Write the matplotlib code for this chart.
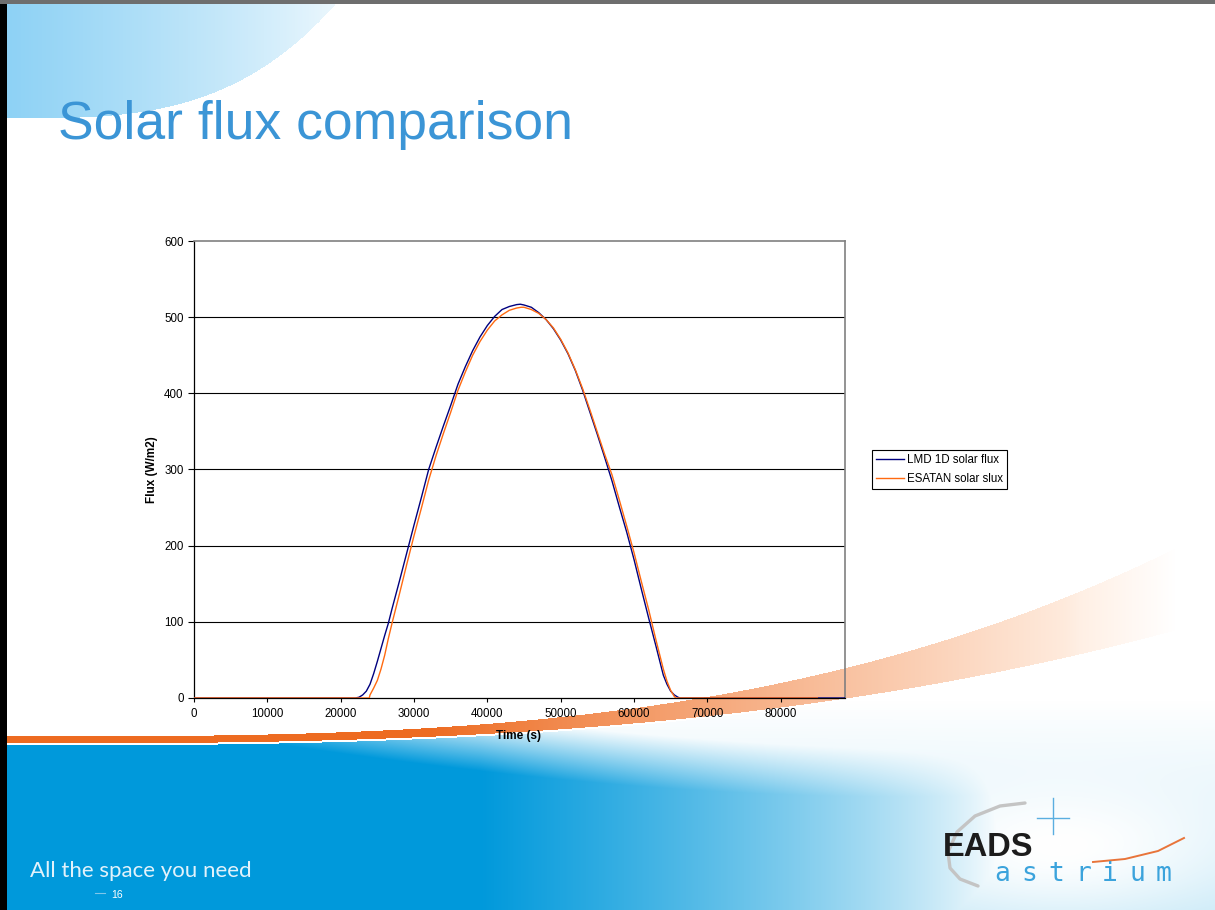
import numpy as np
import matplotlib
matplotlib.use("Agg")
import matplotlib.pyplot as plt
from matplotlib.lines import Line2D

plt.rcParams['font.family'] = ['Liberation Sans', 'DejaVu Sans']

# ---------------- data ----------------
title = "Solar flux comparison"
x_label = "Time (s)"
y_label = "Flux (W/m2)"
series_names = ["LMD 1D solar flux", "ESATAN solar slux"]
x_ticks = [0, 10000, 20000, 30000, 40000, 50000, 60000, 70000, 80000]
y_ticks = [0, 100, 200, 300, 400, 500, 600]

lmd_time = [0, 22000, 22500, 23000, 23500, 24000, 24500, 25000, 25500, 26000,
            26500, 27000, 28000, 29000, 30000, 31000, 32000, 33000, 34000, 35000,
            36000, 37000, 38000, 39000, 40000, 41000, 42000, 43000, 44000, 44500,
            45000, 46000, 47000, 48000, 49000, 50000, 51000, 52000, 53000, 54000,
            55000, 56000, 57000, 58000, 59000, 60000, 61000, 62000, 63000, 64000,
            64500, 65000, 65500, 66000, 66300, 88775]
lmd_flux = [0, 0, 1, 4, 9, 18, 32, 48, 65, 82,
            98, 117, 153, 190, 227, 263, 300, 329, 357, 384,
            412, 435, 456, 474, 489, 501, 510, 514, 516.5, 517,
            516, 513, 506, 497, 485, 470, 452, 430, 404, 375,
            346, 316, 285, 251, 218, 182, 143, 105, 68, 30,
            18, 9, 4, 1, 0, 0]

esatan_time = [0, 23900, 24000, 24500, 25000, 25500, 26000, 26500, 27000, 28000,
               29000, 30000, 31000, 32000, 33000, 34000, 35000, 36000, 37000, 38000,
               39000, 40000, 41000, 42000, 43000, 44000, 44600, 45000, 46000, 47000,
               48000, 49000, 50000, 51000, 52000, 53000, 54000, 55000, 56000, 57000,
               58000, 59000, 60000, 61000, 62000, 63000, 64000, 64500, 65000, 65500,
               65700, 85000]
esatan_flux = [0, 0, 4, 13, 23, 38, 56, 78, 98, 136,
               175, 213, 249, 286, 318, 347, 375, 404, 428, 450,
               468, 483, 495, 503, 509, 512, 513, 513, 510, 505,
               497, 486, 471, 453, 431, 406, 378, 349, 320, 293,
               260, 226, 191, 153, 116, 76, 38, 22, 10, 2,
               0, 0]

x_max = 88775
y_max = 600

# ---------------- slide background ----------------
W, H = 1215, 910
yy, xx = np.mgrid[0:H, 0:W].astype(float)
img = np.ones((H, W, 3))

# top-left light-blue swoosh
S = 118 - 114 * np.clip(xx / 335.0, 0, 1.2) ** 3.3
m_sw = (yy < S) & (xx < 340)
f = np.clip(1 - xx / 370.0, 0, 1) ** 0.75
c_sw = np.array([0.55, 0.82, 0.96])
for k in range(3):
    img[..., k] = np.where(m_sw, 1 - f * (1 - c_sw[k]), img[..., k])

# orange swoosh
U = 736 - 176 * (xx / 1150.0) ** 3.07
L = 743 - 94 * (xx / 1100.0) ** 2.8
m_or = (yy >= U) & (yy <= L)
g = np.clip((xx - 430) / 650.0, 0, 1) ** 0.9
c_or = np.array([0.93, 0.42, 0.13])
c_pale = np.array([1.0, 0.93, 0.88])
fade = np.clip((1175 - xx) / 110.0, 0, 1)
for k in range(3):
    col = c_or[k] * (1 - g) + c_pale[k] * g
    col = 1 - (1 - col) * fade
    img[..., k] = np.where(m_or, col, img[..., k])

# blue bottom area
m_bl = yy > L + 2
h = np.clip((1000 - xx) / 520.0, 0, 1) ** 0.75
v = np.clip((yy - L) / 55.0 + (540 - xx) / 330.0 + 0.15, 0, 1)
t = h * v
fl = 0.22 * np.clip((yy - 700) / 210.0, 0, 1)
glow = np.exp(-(((xx - 1060) / 170.0) ** 2 + ((yy - 845) / 70.0) ** 2))
fl = fl * (1 - glow)
t = np.maximum(t, fl)
c_bl = np.array([0.0, 0.60, 0.86])
for k in range(3):
    img[..., k] = np.where(m_bl, 1 - t * (1 - c_bl[k]), img[..., k])

fig = plt.figure(figsize=(12.15, 9.10), dpi=100)
bg = fig.add_axes([0, 0, 1, 1], zorder=0)
bg.imshow(img, extent=(0, W, H, 0), aspect='auto', interpolation='bilinear')
bg.set_xlim(0, W)
bg.set_ylim(H, 0)
bg.axis('off')

# slide borders
bg.add_patch(plt.Rectangle((0, 0), 7, H, color='black', lw=0))
bg.add_patch(plt.Rectangle((0, 0), W, 4, color='#6e6e6e', lw=0))

# slide title
bg.text(58, 139, title, fontsize=38.5, color='#3b95d6', va='baseline', ha='left')

# footer
bg.text(30, 877, "All the space you need", fontsize=16, color='#e2f2fb',
        family=['Lato', 'DejaVu Sans'], va='baseline', ha='left')
bg.plot([95, 105], [893, 893], color='#7fc6ea', lw=0.8)
bg.text(111, 898, "16", fontsize=7.5, color='white', va='baseline', ha='left')

# logo
arc_x = [1025, 1000, 975, 957, 948, 950, 960, 978]
arc_y = [803, 806, 816, 832, 852, 868, 879, 886]
bg.plot(arc_x, arc_y, color='#c4c4c4', lw=2.4, solid_capstyle='round')
bg.plot([1053, 1053], [798, 834], color='#5aaee0', lw=1.0)
bg.plot([1037, 1069], [818, 818], color='#5aaee0', lw=1.0)
bg.plot([1093, 1125, 1158, 1184], [862, 859, 851, 838], color='#e8743a', lw=1.4)
bg.text(943, 856, "EADS", fontsize=23.5, fontweight='bold', color='#1c1c1c',
        va='baseline', ha='left')
for i, ch in enumerate("astrium"):
    bg.text(1002 + i * 27, 881, ch, fontsize=19, color='#3ba3dc',
            family=['DejaVu Sans Mono', 'DejaVu Sans'], va='baseline', ha='center')

# ---------------- chart ----------------
ax = fig.add_axes([194 / W, 1 - 698 / H, 651 / W, 457 / H], zorder=1)
ax.patch.set_alpha(0)

ax.plot(lmd_time, lmd_flux, color='#00007f', lw=1.0, zorder=3)
ax.plot(esatan_time, esatan_flux, color='#ff6a10', lw=1.0, zorder=4)

ax.set_xlim(0, x_max)
ax.set_ylim(0, y_max)
ax.set_xticks(x_ticks)
ax.set_xticklabels([str(v) for v in x_ticks])
ax.set_yticks(y_ticks)
ax.set_yticklabels([str(v) for v in y_ticks])
for yv in y_ticks[1:-1]:
    ax.axhline(yv, color='black', lw=0.8, zorder=1)

ax.tick_params(axis='y', direction='out', length=4, width=0.8, pad=3.5,
               labelsize=8.3, color='black')
ax.tick_params(axis='x', direction='out', length=3, width=0.8, pad=4,
               labelsize=8.3, color='black')

for side in ['left', 'bottom']:
    ax.spines[side].set_color('black')
    ax.spines[side].set_linewidth(0.9)
for side in ['top', 'right']:
    ax.spines[side].set_color('#808080')
    ax.spines[side].set_linewidth(1.2)

ax.set_xlabel(x_label, fontsize=8.5, fontweight='bold', va='center')
ax.xaxis.set_label_coords(0.499, -0.083)
ax.set_ylabel(y_label, fontsize=8.5, fontweight='bold', va='center')
ax.yaxis.set_label_coords(-0.0645, 0.5)

handles = [Line2D([], [], color='#00007f', lw=1.0),
           Line2D([], [], color='#ff6a10', lw=1.0)]
leg = ax.legend(handles, series_names, loc='center left',
                bbox_to_anchor=(872 / W, 1 - 469.5 / H),
                bbox_transform=fig.transFigure, frameon=True, fancybox=False,
                edgecolor='black', facecolor='white', framealpha=1,
                borderpad=0.35, handlelength=2.4, handletextpad=0.25,
                labelspacing=0.55, borderaxespad=0, fontsize=8.3)
leg.get_frame().set_linewidth(0.8)

fig.savefig("out.png", dpi=100)
